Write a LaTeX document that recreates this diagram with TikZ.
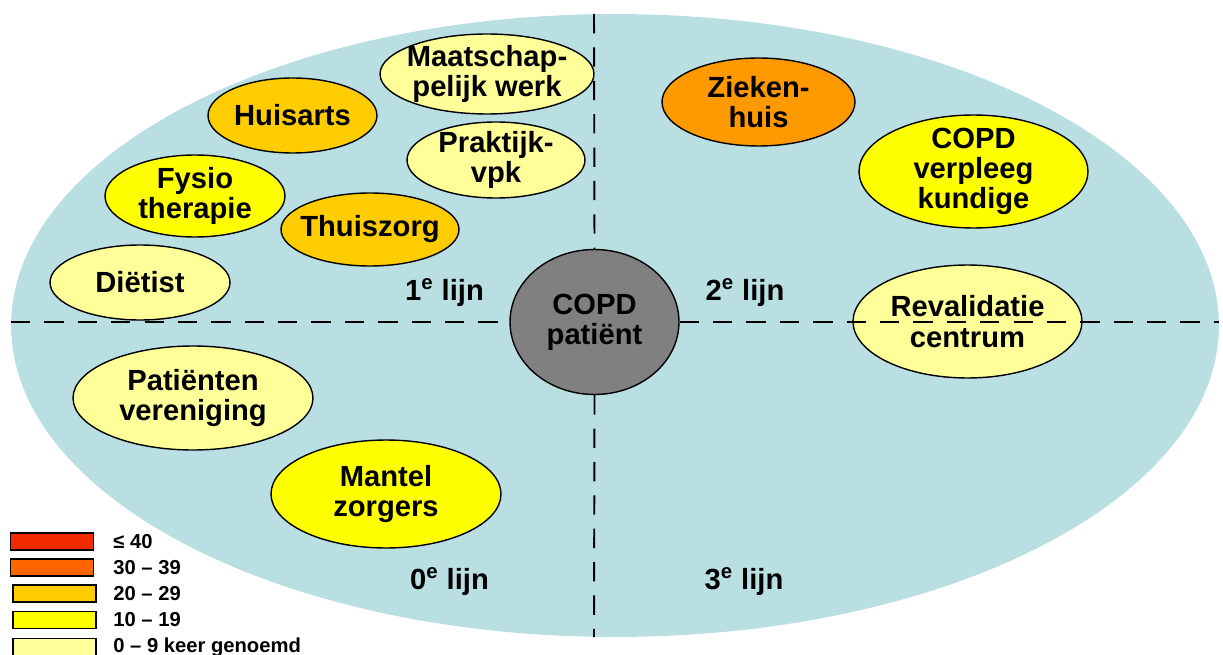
\documentclass[tikz,border=0pt]{standalone}
\usepackage{fontspec}
\setmainfont{Liberation Sans}
\usepackage{xcolor}
\usepackage{tikz}
\usetikzlibrary{shapes.geometric,positioning}
\definecolor{zeeblauw}{RGB}{185,223,227}
\definecolor{lvlrood}{RGB}{242,42,0}
\definecolor{lvloranje}{RGB}{255,102,0}
\definecolor{lvlamber}{RGB}{255,153,0}
\definecolor{lvlgoud}{RGB}{255,204,0}
\definecolor{lvlgeel}{RGB}{255,255,0}
\definecolor{lvlbleek}{RGB}{255,255,153}
\definecolor{patgrijs}{RGB}{128,128,128}

\begin{document}
\begin{tikzpicture}[x=0.02cm, y=-0.02cm,
    zorg/.style={ellipse, draw=black, line width=0.8pt, inner sep=-14pt, align=center,
      font=\fontsize{16.6}{17.2}\selectfont\bfseries},
    lijn/.style={font=\fontsize{16.6}{18}\selectfont\bfseries},
    divider/.style={line width=1.1pt, dash pattern=on 11pt off 8pt},
    legbox/.style={rectangle, draw=black, line width=0.9pt, minimum width=1.66cm, minimum height=0.34cm, inner sep=0pt},
    legtext/.style={anchor=west, inner sep=0pt, font=\fontsize{11.5}{13}\selectfont\bfseries}]
  \useasboundingbox (0,0) rectangle (1223,655);
  % large care-field ellipse
  \node[ellipse, fill=zeeblauw, minimum width=24.16cm, minimum height=12.46cm, inner sep=0pt] (veld) at (615,325.5) {};
  % care providers
  \node[zorg, fill=lvlbleek, minimum width=4.28cm, minimum height=1.6cm] (maatsch) at (487,74) {Maatschap-\\pelijk werk};
  \node[zorg, fill=lvlgoud, minimum width=3.38cm, minimum height=1.5cm] (huisarts) at (292.5,115.5) {Huisarts};
  \node[zorg, fill=lvlbleek, minimum width=3.56cm, minimum height=1.52cm] (pvpk) at (496,160) {Praktijk-\\vpk};
  \node[zorg, fill=lvlgeel, minimum width=3.6cm, minimum height=1.64cm] (fysio) at (195,196) {Fysio\\therapie};
  \node[zorg, fill=lvlgoud, minimum width=3.56cm, minimum height=1.46cm] (thuiszorg) at (370,229.5) {Thuiszorg};
  \node[zorg, fill=lvlbleek, minimum width=3.6cm, minimum height=1.5cm] (dietist) at (140,282.5) {Diëtist};
  \node[zorg, fill=lvlamber, minimum width=3.86cm, minimum height=1.76cm] (zhuis) at (758.5,102) {Zieken-\\huis};
  \node[zorg, fill=lvlgeel, minimum width=4.58cm, minimum height=2.26cm] (copdvpk) at (973.5,171.5) {COPD\\verpleeg\\kundige};
  \node[zorg, fill=lvlbleek, minimum width=4.58cm, minimum height=2.26cm] (reval) at (967.5,321.5) {Revalidatie\\centrum};
  \node[zorg, fill=lvlbleek, minimum width=4.8cm, minimum height=2.08cm] (pvereniging) at (193,398) {Patiënten\\vereniging};
  \node[zorg, fill=lvlgeel, minimum width=4.6cm, minimum height=2.16cm] (mantel) at (386,494) {Mantel\\zorgers};
  \node[zorg, fill=patgrijs, minimum width=3.38cm, minimum height=2.9cm] (patient) at (594.5,322) {COPD\\patiënt};
  % quadrant dividers
  \coordinate (rand-w) at (11,322);
  \coordinate (rand-o) at (1219,322);
  \coordinate (rand-n) at (594,14);
  \coordinate (rand-z) at (594,637);
  \draw[divider] (rand-w) -- (patient.west);
  \draw[divider] (patient.east) -- (rand-o);
  \draw[divider] (rand-n) -- (patient.north);
  \draw[divider] (patient.south) -- (rand-z);
  % line labels
  \node[lijn] (lijn1) at (444.5,293) {1\textsuperscript{e} lijn};
  \node[lijn] (lijn2) at (745,293) {2\textsuperscript{e} lijn};
  \node[lijn] (lijn0) at (449.5,582) {0\textsuperscript{e} lijn};
  \node[lijn] (lijn3) at (744,582) {3\textsuperscript{e} lijn};
  % legend
  \node[legbox, fill=lvlrood] (leg40) at (52,541.5) {};
  \node[legbox, fill=lvloranje] (leg30) at (52,567.5) {};
  \node[legbox, fill=lvlgoud] (leg20) at (54.5,593.5) {};
  \node[legbox, fill=lvlgeel] (leg10) at (54.5,620) {};
  \node[legbox, fill=lvlbleek] (leg0) at (54.5,647) {};
  \node[legtext] (txt40) at (113,541.5) {≤ 40};
  \node[legtext] (txt30) at (113,567.5) {30 – 39};
  \node[legtext] (txt20) at (113,593.5) {20 – 29};
  \node[legtext] (txt10) at (113,620) {10 – 19};
  \node[legtext] (txt0) at (113,647) {0 – 9 keer genoemd};
\end{tikzpicture}
\end{document}
